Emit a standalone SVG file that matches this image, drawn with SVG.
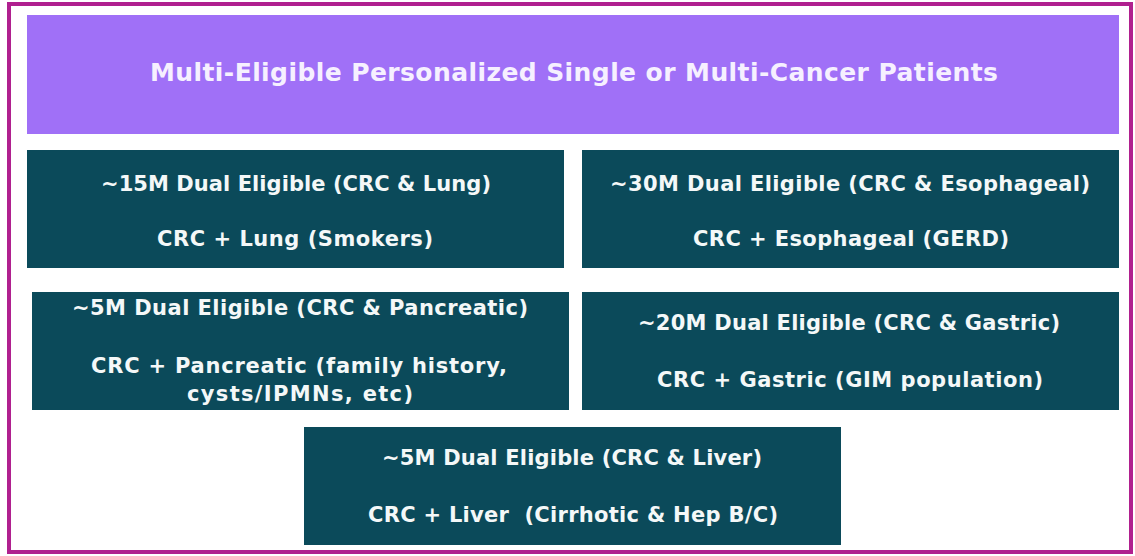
<svg xmlns="http://www.w3.org/2000/svg" width="1135" height="556" viewBox="0 0 1135 556">
<style>
.box{fill:#0B4A5A}
.t{font-family:"DejaVu Sans","Open Sans",sans-serif;font-weight:700;fill:#F4F8F8;text-anchor:middle;font-size:21px}
.title{font-family:"DejaVu Sans","Open Sans",sans-serif;font-weight:700;fill:#F6F0FF;text-anchor:middle;font-size:25px}
</style>
<rect x="0" y="0" width="1135" height="556" fill="#FFFFFF"/>
<rect x="9" y="4" width="1122" height="548" fill="none" stroke="#B0208F" stroke-width="4"/>
<g id="header">
<rect x="27" y="15" width="1092" height="119" fill="#A070F7"/>
<text class="title" x="574" y="81" textLength="848">Multi-Eligible Personalized Single or Multi-Cancer Patients</text>
</g>
<g id="lung">
<rect class="box" x="27" y="150" width="537" height="118"/>
<text class="t" x="296" y="191" textLength="390">~15M Dual Eligible (CRC &amp; Lung)</text>
<text class="t" x="295" y="246" textLength="276">CRC + Lung (Smokers)</text>
</g>
<g id="esophageal">
<rect class="box" x="582" y="150" width="537" height="118"/>
<text class="t" x="850" y="191" textLength="480">~30M Dual Eligible (CRC &amp; Esophageal)</text>
<text class="t" x="851" y="246" textLength="316">CRC + Esophageal (GERD)</text>
</g>
<g id="pancreatic">
<rect class="box" x="32" y="292" width="537" height="118"/>
<text class="t" x="300" y="315" textLength="456">~5M Dual Eligible (CRC &amp; Pancreatic)</text>
<text class="t" x="299" y="373" textLength="416">CRC + Pancreatic (family history,</text>
<text class="t" x="300" y="401" textLength="226">cysts/IPMNs, etc)</text>
</g>
<g id="gastric">
<rect class="box" x="582" y="292" width="537" height="118"/>
<text class="t" x="849" y="330" textLength="422">~20M Dual Eligible (CRC &amp; Gastric)</text>
<text class="t" x="850" y="387" textLength="386">CRC + Gastric (GIM population)</text>
</g>
<g id="liver">
<rect class="box" x="304" y="427" width="537" height="118"/>
<text class="t" x="572" y="465" textLength="380">~5M Dual Eligible (CRC &amp; Liver)</text>
<text class="t" x="573" y="522" textLength="410" xml:space="preserve">CRC + Liver  (Cirrhotic &amp; Hep B/C)</text>
</g>
<g id="connectors"></g>
</svg>
